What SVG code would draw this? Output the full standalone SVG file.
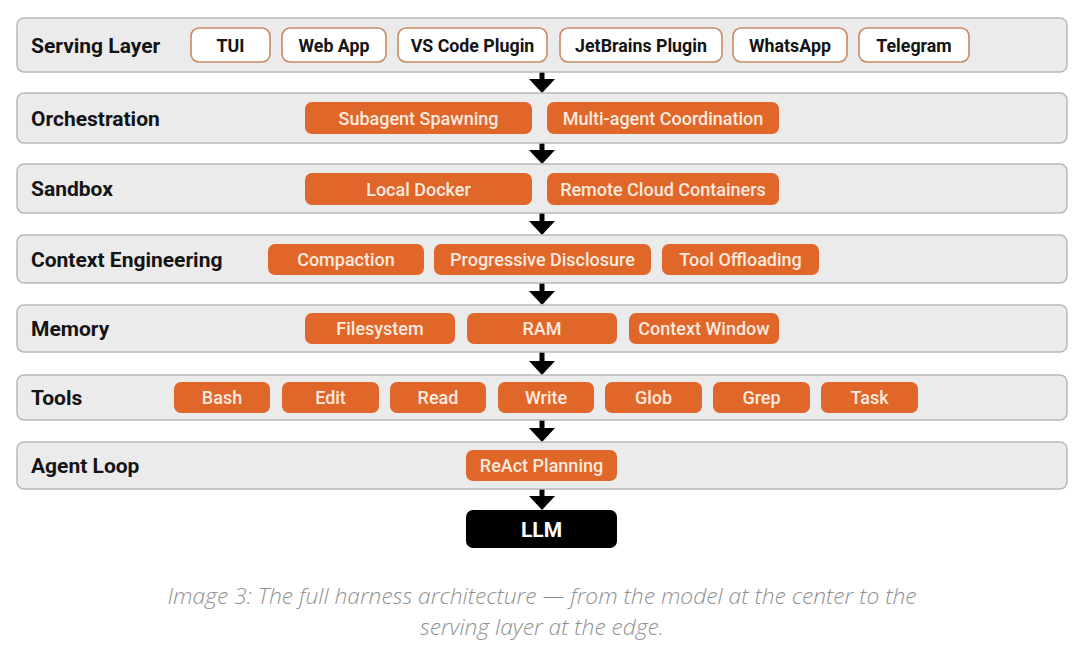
<svg xmlns="http://www.w3.org/2000/svg" width="1080" height="662" viewBox="0 0 1080 662">
<defs>
<style>
.band{fill:#ebebec;stroke:#b9b9bb;stroke-width:1.5}
.lbl{font-family:Roboto,"Liberation Sans",sans-serif;font-weight:700;font-size:21px;fill:#141414}
.wp{fill:#ffffff;stroke:#c98a62;stroke-width:1.6}
.wt{font-family:Roboto,"Liberation Sans",sans-serif;font-weight:700;font-size:17.8px;fill:#141414;text-anchor:middle}
.op{fill:#e0662a}
.ot{font-family:Roboto,"Liberation Sans",sans-serif;font-weight:500;font-size:18px;fill:#fbeadf;text-anchor:middle}
.arr{stroke:#000;stroke-width:5;fill:none}
.cap{font-family:"Open Sans","Liberation Sans",sans-serif;font-style:italic;font-weight:300;font-size:22.8px;fill:#919191;text-anchor:middle}
</style>
</defs>
<rect width="1080" height="662" fill="#ffffff"/>

<g id="connectors">
<path class="arr" d="M542,72 V80"/><path d="M529,79 H555 L542,93 Z"/>
<path class="arr" d="M542,143 V151"/><path d="M529,150 H555 L542,164 Z"/>
<path class="arr" d="M542,213 V222"/><path d="M529,221 H555 L542,235 Z"/>
<path class="arr" d="M542,283 V292"/><path d="M529,291 H555 L542,305 Z"/>
<path class="arr" d="M542,352 V362"/><path d="M529,361 H555 L542,375 Z"/>
<path class="arr" d="M542,420 V429"/><path d="M529,428 H555 L542,442 Z"/>
<path class="arr" d="M542,489 V497"/><path d="M529,496 H555 L542,510 Z"/>
</g>

<g id="serving-layer">
<rect class="band" x="17" y="18" width="1050" height="54" rx="7"/>
<text class="lbl" x="31" y="52.5">Serving Layer</text>
<g id="tui"><rect class="wp" x="191" y="28" width="79" height="34" rx="8"/><text class="wt" x="230.5" y="51.5">TUI</text></g>
<g id="web-app"><rect class="wp" x="282" y="28" width="104" height="34" rx="8"/><text class="wt" x="334" y="51.5">Web App</text></g>
<g id="vs-code-plugin"><rect class="wp" x="398" y="28" width="149" height="34" rx="8"/><text class="wt" x="472.5" y="51.5">VS Code Plugin</text></g>
<g id="jetbrains-plugin"><rect class="wp" x="560" y="28" width="162" height="34" rx="8"/><text class="wt" x="641" y="51.5">JetBrains Plugin</text></g>
<g id="whatsapp"><rect class="wp" x="733" y="28" width="114" height="34" rx="8"/><text class="wt" x="790" y="51.5">WhatsApp</text></g>
<g id="telegram"><rect class="wp" x="859" y="28" width="110" height="34" rx="8"/><text class="wt" x="914" y="51.5">Telegram</text></g>
</g>

<g id="orchestration">
<rect class="band" x="17" y="93" width="1050" height="50" rx="7"/>
<text class="lbl" x="31" y="125.5">Orchestration</text>
<g id="subagent-spawning"><rect class="op" x="305" y="102" width="227" height="32" rx="7"/><text class="ot" x="418.5" y="124.5">Subagent Spawning</text></g>
<g id="multi-agent-coordination"><rect class="op" x="547" y="102" width="232" height="32" rx="7"/><text class="ot" x="663" y="124.5">Multi-agent Coordination</text></g>
</g>

<g id="sandbox">
<rect class="band" x="17" y="164" width="1050" height="49" rx="7"/>
<text class="lbl" x="31" y="196">Sandbox</text>
<g id="local-docker"><rect class="op" x="305" y="173" width="227" height="32" rx="7"/><text class="ot" x="418.5" y="195.5">Local Docker</text></g>
<g id="remote-cloud-containers"><rect class="op" x="547" y="173" width="232" height="32" rx="7"/><text class="ot" x="663" y="195.5">Remote Cloud Containers</text></g>
</g>

<g id="context-engineering">
<rect class="band" x="17" y="235" width="1050" height="48" rx="7"/>
<text class="lbl" x="31" y="266.5">Context Engineering</text>
<g id="compaction"><rect class="op" x="268" y="244" width="156" height="31" rx="7"/><text class="ot" x="346" y="266">Compaction</text></g>
<g id="progressive-disclosure"><rect class="op" x="434" y="244" width="217" height="31" rx="7"/><text class="ot" x="542.5" y="266">Progressive Disclosure</text></g>
<g id="tool-offloading"><rect class="op" x="662" y="244" width="157" height="31" rx="7"/><text class="ot" x="740.5" y="266">Tool Offloading</text></g>
</g>

<g id="memory">
<rect class="band" x="17" y="305" width="1050" height="47" rx="7"/>
<text class="lbl" x="31" y="335.5">Memory</text>
<g id="filesystem"><rect class="op" x="305" y="313" width="150" height="31" rx="7"/><text class="ot" x="380" y="335">Filesystem</text></g>
<g id="ram"><rect class="op" x="467" y="313" width="150" height="31" rx="7"/><text class="ot" x="542" y="335">RAM</text></g>
<g id="context-window"><rect class="op" x="629" y="313" width="150" height="31" rx="7"/><text class="ot" x="704" y="335">Context Window</text></g>
</g>

<g id="tools">
<rect class="band" x="17" y="375" width="1050" height="45" rx="7"/>
<text class="lbl" x="31" y="404.5">Tools</text>
<g id="bash"><rect class="op" x="174" y="382" width="96" height="31" rx="7"/><text class="ot" x="222" y="404">Bash</text></g>
<g id="edit"><rect class="op" x="282" y="382" width="97" height="31" rx="7"/><text class="ot" x="330.5" y="404">Edit</text></g>
<g id="read"><rect class="op" x="390" y="382" width="96" height="31" rx="7"/><text class="ot" x="438" y="404">Read</text></g>
<g id="write"><rect class="op" x="498" y="382" width="96" height="31" rx="7"/><text class="ot" x="546" y="404">Write</text></g>
<g id="glob"><rect class="op" x="605" y="382" width="97" height="31" rx="7"/><text class="ot" x="653.5" y="404">Glob</text></g>
<g id="grep"><rect class="op" x="713" y="382" width="97" height="31" rx="7"/><text class="ot" x="761.5" y="404">Grep</text></g>
<g id="task"><rect class="op" x="821" y="382" width="97" height="31" rx="7"/><text class="ot" x="869.5" y="404">Task</text></g>
</g>

<g id="agent-loop">
<rect class="band" x="17" y="442" width="1050" height="47" rx="7"/>
<text class="lbl" x="31" y="472.5">Agent Loop</text>
<g id="react-planning"><rect class="op" x="466" y="450" width="151" height="31" rx="7"/><text class="ot" x="541.5" y="472">ReAct Planning</text></g>
</g>

<g id="llm">
<rect x="466" y="510" width="151" height="38" rx="7" fill="#000"/>
<text x="541.5" y="537" font-family="Roboto,'Liberation Sans',sans-serif" font-weight="700" font-size="21" fill="#fff" text-anchor="middle">LLM</text>
</g>

<g id="caption">
<text class="cap" x="542" y="604">Image 3: The full harness architecture — from the model at the center to the</text>
<text class="cap" x="542" y="635">serving layer at the edge.</text>
</g>
</svg>
